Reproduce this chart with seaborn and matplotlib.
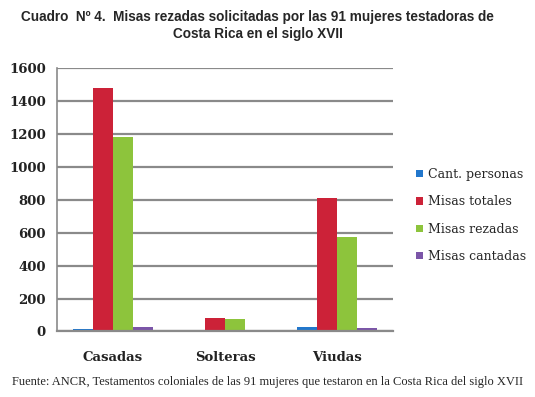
import numpy as np
import pandas as pd
import matplotlib
matplotlib.use('Agg')
import matplotlib.pyplot as plt
from matplotlib import font_manager
import seaborn as sns

# Data
estados = ['Casadas', 'Solteras', 'Viudas']
series = ['Cant. personas', 'Misas totales', 'Misas rezadas', 'Misas cantadas']
cant_personas = [16, 0, 26]
misas_totales = [1476, 79, 812]
misas_rezadas = [1182, 75, 575]
misas_cantadas = [26, 0, 22]

colores = ['#2277CC', '#CC2238', '#8DC43C', '#7B55A8']

df = pd.DataFrame({'Estado': estados,
                   'Cant. personas': cant_personas,
                   'Misas totales': misas_totales,
                   'Misas rezadas': misas_rezadas,
                   'Misas cantadas': misas_cantadas})
df = df.melt(id_vars='Estado', var_name='Serie', value_name='Valor')

sns.set_style('white')
fig = plt.figure(figsize=(5.35, 3.97), dpi=100)
ax = fig.add_axes([0.1065, 0.165, 0.628, 0.664])

sns.barplot(data=df, x='Estado', y='Valor', hue='Serie', hue_order=series,
            palette=colores, width=0.72, saturation=1, linewidth=0,
            ax=ax, legend=True)

ax.set_ylim(0, 1600)
ax.set_xlim(-0.5, 2.5)
ax.set_yticks(range(0, 1601, 200))
ax.yaxis.grid(True, color='#8a8a8a', linewidth=1.6)
ax.set_axisbelow(True)
for s in ['top', 'right']:
    ax.spines[s].set_visible(False)
ax.spines['left'].set_color('#8a8a8a')
ax.spines['bottom'].set_color('#8a8a8a')
ax.spines['left'].set_linewidth(1.2)
ax.spines['bottom'].set_linewidth(1.6)

# category boundary ticks on x
ax.set_xticks([0.5, 1.5, 2.5], minor=True)
ax.set_xticks([0, 1, 2])
ax.tick_params(axis='x', which='major', length=0, pad=14)
ax.tick_params(axis='x', which='minor', length=4, color='#8a8a8a', direction='out')
ax.tick_params(axis='y', length=4, color='#8a8a8a', pad=4)
ax.set_xticklabels(estados, family='DejaVu Serif', fontweight='bold', fontsize=9.5, color='#222222')
for t in ax.get_yticklabels():
    t.set_family('DejaVu Serif')
    t.set_fontweight('bold')
    t.set_fontsize(9.5)
    t.set_color('#222222')
ax.set_xlabel('')
ax.set_ylabel('')

leg = ax.legend(loc='center left', bbox_to_anchor=(1.035, 0.44), frameon=False,
                handlelength=0.55, handleheight=0.55, handletextpad=0.45,
                labelspacing=1.15, prop={'family': 'DejaVu Serif', 'size': 9})

nombres = {f.name for f in font_manager.fontManager.ttflist}
if 'Liberation Sans Narrow' in nombres:
    fam_titulo, tam_titulo = 'Liberation Sans Narrow', 11.5
else:
    fam_titulo, tam_titulo = 'Liberation Sans', 9.8

fig.text(0.482, 0.975, 'Cuadro  Nº 4.  Misas rezadas solicitadas por las 91 mujeres testadoras de\nCosta Rica en el siglo XVII',
         ha='center', va='top', fontsize=tam_titulo, fontweight='bold',
         family=fam_titulo, linespacing=1.3)
fig.text(0.5, 0.037, 'Fuente: ANCR, Testamentos coloniales de las 91 mujeres que testaron en la Costa Rica del siglo XVII',
         ha='center', va='center', fontsize=9, family='Liberation Serif')

fig.savefig('out.png', dpi=100)
